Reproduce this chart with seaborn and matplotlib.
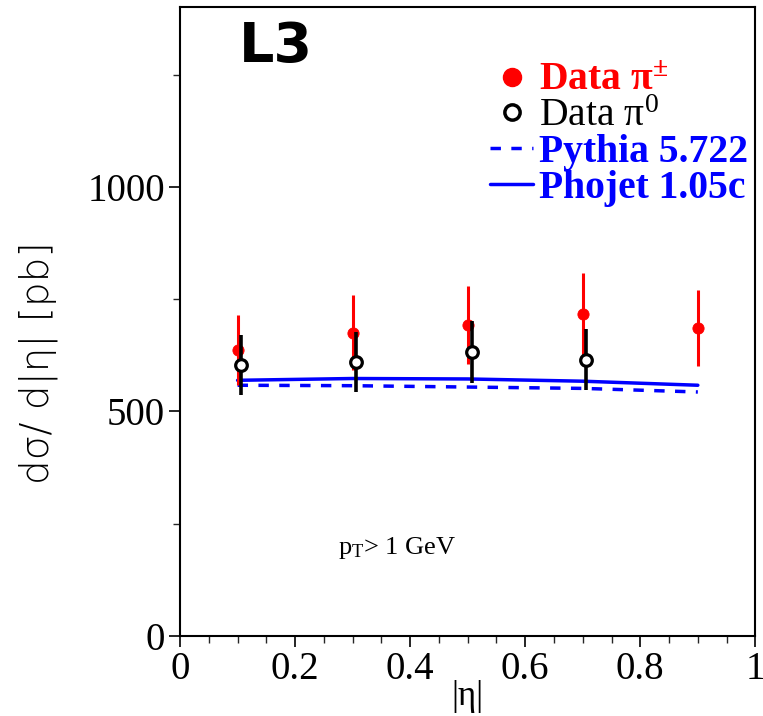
import numpy as np
import pandas as pd
import matplotlib
matplotlib.use("Agg")
import matplotlib.pyplot as plt
from matplotlib.lines import Line2D
from matplotlib.ticker import MultipleLocator
import seaborn as sns

# ---- data ----
eta_charged = [0.1, 0.3, 0.5, 0.7, 0.9]
xs_charged = [637, 675, 692, 717, 685]
err_charged = [78, 84, 86, 91, 85]

eta_neutral = [0.106, 0.306, 0.507, 0.706]
xs_neutral = [604, 609, 632, 615]
err_neutral = [67, 67, 70, 68]

eta_model = [0.1, 0.3, 0.5, 0.7, 0.9]
pythia = [558, 557, 554, 551, 543]
phojet = [569, 573, 572, 567, 558]

sns.set_style("ticks")
plt.rcParams["font.family"] = ["Liberation Serif", "DejaVu Serif"]
plt.rcParams["mathtext.fontset"] = "custom"
plt.rcParams["mathtext.rm"] = "Liberation Serif"
plt.rcParams["mathtext.it"] = "Liberation Serif:italic"
plt.rcParams["mathtext.bf"] = "Liberation Serif:bold"
plt.rcParams["mathtext.default"] = "regular"
plt.rcParams["text.color"] = "black"
plt.rcParams["axes.labelcolor"] = "black"

fig = plt.figure(figsize=(7.63, 7.16), dpi=100)
ax = fig.add_axes([0.236, 0.112, 0.754, 0.878])

df_model = pd.DataFrame({"eta": eta_model, "Pythia": pythia, "Phojet": phojet})
sns.lineplot(data=df_model, x="eta", y="Phojet", ax=ax, color="#0000ff", lw=2.5)
sns.lineplot(data=df_model, x="eta", y="Pythia", ax=ax, color="#0000ff", lw=2.5,
             linestyle=(0, (3, 3)))

ax.errorbar(eta_charged, xs_charged, yerr=err_charged, fmt="none", ecolor="#ff0000",
            elinewidth=2.2, capsize=0, zorder=3)
sns.scatterplot(x=eta_charged, y=xs_charged, ax=ax, color="#ff0000", s=65,
                edgecolor="#ff0000", zorder=4)
ax.errorbar(eta_neutral, xs_neutral, yerr=err_neutral, fmt="none", ecolor="black",
            elinewidth=2.6, capsize=0, zorder=5)
sns.scatterplot(x=eta_neutral, y=xs_neutral, ax=ax, facecolor="white", s=70,
                edgecolor="black", linewidth=2.3, zorder=6)

ax.set_xlim(0, 1)
ax.set_ylim(0, 1400)
ax.set_xticks([0, 0.2, 0.4, 0.6, 0.8, 1])
ax.set_xticklabels(["0", "0.2", "0.4", "0.6", "0.8", "1"])
ax.set_yticks([0, 500, 1000])
ax.xaxis.set_minor_locator(MultipleLocator(0.05))
ax.yaxis.set_minor_locator(MultipleLocator(250))
ax.tick_params(axis="both", which="major", direction="out", length=8, width=1.2,
               labelsize=28, colors="black", pad=3)
ax.tick_params(axis="both", which="minor", direction="out", length=5, width=1.0)
for s in ax.spines.values():
    s.set_linewidth(1.5)
    s.set_color("black")

ax.set_xlabel("|η|", fontsize=25, labelpad=-6)
ax.set_ylabel("dσ/ d|η| [pb]", fontsize=28, family=["DejaVu Sans"],
              fontweight="light")
ax.yaxis.set_label_coords(-0.212, 0.434)

ax.text(0.103, 0.937, "L3", transform=ax.transAxes, fontsize=40, fontweight="heavy",
        family=["DejaVu Sans"], va="center", ha="left", color="black")
ax.text(0.275, 0.14, "p$_T$> 1 GeV", transform=ax.transAxes, fontsize=19,
        va="center", ha="left")

handles = [
    Line2D([], [], marker="o", color="#ff0000", ls="none", markersize=13),
    Line2D([], [], marker="o", markerfacecolor="white", markeredgecolor="black",
           markeredgewidth=2.5, ls="none", markersize=11),
    Line2D([], [], color="#0000ff", lw=2.5, ls=(0, (3, 3))),
    Line2D([], [], color="#0000ff", lw=2.5),
]
labels = ["Data π$^{\\pm}$", "Data π$^{0}$", "Pythia 5.722", "Phojet 1.05c"]
leg = ax.legend(handles, labels, loc="upper right", bbox_to_anchor=(0.988, 0.912),
                frameon=False, fontsize=28.5, handlelength=1.1, handletextpad=0.15,
                labelspacing=-0.03, borderaxespad=0.0, borderpad=0.0)
colors = ["#ff0000", "black", "#0000ff", "#0000ff"]
weights = ["bold", "normal", "bold", "bold"]
for t, c, w in zip(leg.get_texts(), colors, weights):
    t.set_color(c)
    t.set_fontweight(w)

fig.savefig("out.png", dpi=100)
